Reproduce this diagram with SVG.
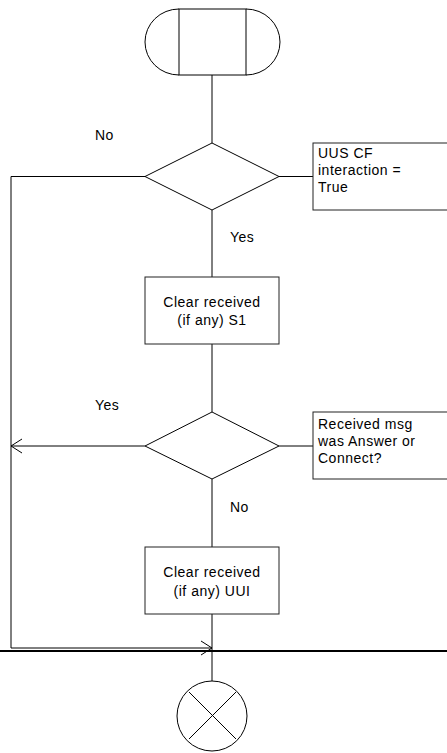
<svg xmlns="http://www.w3.org/2000/svg" width="447" height="753" viewBox="0 0 447 753">
<style>
.s{fill:none;stroke:#000;stroke-width:1}
.b{fill:#fff;stroke:#222;stroke-width:1}
.t{font-family:"Liberation Sans",Arial,sans-serif;font-size:14px;fill:#000;letter-spacing:0.5px}
.c{text-anchor:middle}
</style>
<defs>
<marker id="ah" markerUnits="userSpaceOnUse" markerWidth="14" markerHeight="16" viewBox="0 0 14 16" refX="12" refY="8" orient="auto">
<path d="M1,1 L12,8 L1,15" fill="none" stroke="#000" stroke-width="1"/>
</marker>
</defs>
<rect width="447" height="753" fill="#fff"/>
<g id="connectors">
<line class="s" x1="212" y1="75" x2="212" y2="143"/>
<line class="s" x1="212" y1="210" x2="212" y2="277"/>
<line class="s" x1="212" y1="344" x2="212" y2="412"/>
<line class="s" x1="212" y1="479" x2="212" y2="547"/>
<line class="s" x1="212" y1="614" x2="212" y2="681"/>
<polyline class="s" points="145,176.5 11,176.5 11,648 212,648" marker-end="url(#ah)"/>
<line class="s" x1="145" y1="446" x2="11" y2="446" marker-end="url(#ah)"/>
<line class="s" x1="279" y1="176.5" x2="313" y2="176.5"/>
<line class="s" x1="279" y1="446" x2="313" y2="446"/>
<line x1="0" y1="651" x2="447" y2="651" stroke="#000" stroke-width="2"/>
</g>
<g id="start">
<rect class="s" x="179" y="9" width="67" height="66"/>
<path class="s" d="M179,9 A34,33 0 0 0 179,75"/>
<path class="s" d="M246,9 A34,33 0 0 1 246,75"/>
</g>
<g id="decision1">
<polygon class="s" points="212,143 279,176.5 212,210 145,176.5"/>
<text class="t" x="95" y="140">No</text>
<text class="t" x="230" y="242">Yes</text>
</g>
<g id="comment1">
<rect class="b" x="313" y="143" width="140" height="67"/>
<text class="t" x="318" y="158">UUS CF</text>
<text class="t" x="318" y="175">interaction =</text>
<text class="t" x="318" y="192">True</text>
</g>
<g id="task1">
<rect class="b" x="145" y="277" width="134" height="67"/>
<text class="t c" x="212" y="307">Clear received</text>
<text class="t c" x="212" y="325">(if any) S1</text>
</g>
<g id="decision2">
<polygon class="s" points="212,412 279,446 212,479 145,446"/>
<text class="t" x="95" y="410">Yes</text>
<text class="t" x="230" y="512">No</text>
</g>
<g id="comment2">
<rect class="b" x="313" y="412" width="140" height="67"/>
<text class="t" x="318" y="429">Received msg</text>
<text class="t" x="318" y="446">was Answer or</text>
<text class="t" x="318" y="463">Connect?</text>
</g>
<g id="task2">
<rect class="b" x="145" y="547" width="134" height="67"/>
<text class="t c" x="212" y="577">Clear received</text>
<text class="t c" x="212" y="596">(if any) UUI</text>
</g>
<g id="stop">
<circle class="s" cx="212" cy="716" r="35"/>
<line class="s" x1="189" y1="692" x2="236" y2="739"/>
<line class="s" x1="236" y1="692" x2="189" y2="739"/>
</g>
</svg>
